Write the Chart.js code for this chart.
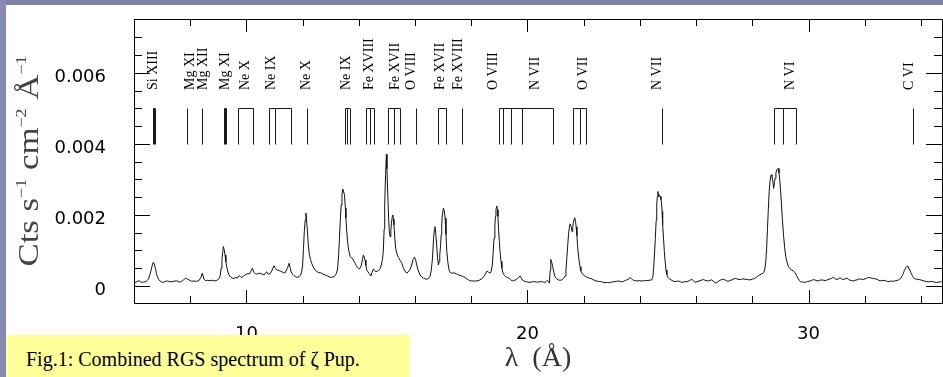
<!DOCTYPE html>
<html>
<head>
<meta charset="utf-8">
<title>Combined RGS spectrum of zeta Pup</title>
<script src="https://cdn.jsdelivr.net/npm/chart.js@4.4.1/dist/chart.umd.min.js"></script>
<style>
  html, body { margin: 0; padding: 0; background: #fff; overflow: hidden; }
  #page { position: relative; width: 943px; height: 377px; background: #fff; }
  .strip-top { position: absolute; left: 0; top: 0; width: 943px; height: 5px; background: #7e82a9; }
  .strip-left { position: absolute; left: 0; top: 0; width: 6px; height: 377px; background: #868ab2; }
  #myChart { position: absolute; left: 0; top: 0; z-index: 1; }
  .caption { position: absolute; left: 6px; top: 335px; width: 404px; height: 42px; background: #ffff99; z-index: 2;
             font: 20px "Liberation Serif", "Times New Roman", serif; color: #000; }
  .caption span { position: absolute; left: 20px; top: 13px; line-height: 23px; white-space: nowrap; }
</style>
</head>
<body>
<div id="page">
  <div class="strip-top"></div>
  <div class="strip-left"></div>
  <canvas id="myChart" width="943" height="377"></canvas>
  <div class="caption"><span>Fig.1: Combined RGS spectrum of ζ Pup.</span></div>
</div>
<script>
const ctx = document.getElementById("myChart");

// spectrum: wavelength (Å) and counts (Cts s-1 cm-2 Å-1)
const wavelength = [
  6.00, 6.04, 6.10, 6.18, 6.26, 6.34, 6.42, 6.48, 6.53, 6.58,
  6.62, 6.66, 6.69, 6.72, 6.76, 6.80, 6.83, 6.88, 6.93, 6.98,
  7.04, 7.11, 7.19, 7.27, 7.36, 7.45, 7.54, 7.61, 7.68, 7.76,
  7.84, 7.90, 7.96, 8.05, 8.14, 8.22, 8.31, 8.38, 8.43, 8.49,
  8.55, 8.61, 8.70, 8.79, 8.88, 8.97, 9.02, 9.06, 9.10, 9.13,
  9.16, 9.18, 9.21, 9.24, 9.27, 9.30, 9.34, 9.38, 9.44, 9.50,
  9.56, 9.62, 9.68, 9.74, 9.78, 9.82, 9.88, 9.94, 10.00, 10.06,
  10.11, 10.15, 10.21, 10.27, 10.32, 10.37, 10.44, 10.51, 10.57, 10.63,
  10.68, 10.72, 10.76, 10.80, 10.85, 10.90, 10.94, 10.98, 11.03, 11.08,
  11.14, 11.20, 11.26, 11.31, 11.36, 11.41, 11.46, 11.52, 11.56, 11.59,
  11.64, 11.69, 11.75, 11.81, 11.87, 11.93, 11.97, 12.00, 12.03, 12.06,
  12.09, 12.12, 12.15, 12.17, 12.20, 12.24, 12.28, 12.32, 12.38, 12.44,
  12.50, 12.56, 12.62, 12.68, 12.74, 12.80, 12.89, 12.98, 13.05, 13.12,
  13.18, 13.24, 13.28, 13.31, 13.34, 13.37, 13.40, 13.43, 13.46, 13.49,
  13.52, 13.54, 13.57, 13.60, 13.64, 13.69, 13.73, 13.78, 13.82, 13.87,
  13.91, 13.95, 14.02, 14.06, 14.09, 14.13, 14.16, 14.19, 14.22, 14.25,
  14.28, 14.32, 14.36, 14.40, 14.43, 14.47, 14.52, 14.56, 14.61, 14.66,
  14.71, 14.76, 14.80, 14.84, 14.87, 14.90, 14.92, 14.95, 14.98, 15.00,
  15.03, 15.06, 15.08, 15.11, 15.14, 15.16, 15.19, 15.21, 15.23, 15.25,
  15.28, 15.31, 15.36, 15.41, 15.47, 15.53, 15.58, 15.64, 15.70, 15.76,
  15.82, 15.88, 15.93, 15.98, 16.02, 16.06, 16.12, 16.18, 16.24, 16.30,
  16.36, 16.42, 16.48, 16.53, 16.58, 16.62, 16.66, 16.69, 16.71, 16.74,
  16.77, 16.80, 16.83, 16.86, 16.88, 16.91, 16.93, 16.95, 16.97, 17.01,
  17.04, 17.07, 17.10, 17.13, 17.17, 17.21, 17.25, 17.30, 17.36, 17.42,
  17.48, 17.54, 17.60, 17.66, 17.72, 17.78, 17.84, 17.90, 17.96, 18.02,
  18.11, 18.20, 18.28, 18.35, 18.41, 18.47, 18.52, 18.56, 18.61, 18.67,
  18.71, 18.75, 18.78, 18.81, 18.84, 18.86, 18.88, 18.91, 18.93, 18.95,
  18.97, 19.00, 19.03, 19.06, 19.09, 19.13, 19.18, 19.23, 19.29, 19.35,
  19.40, 19.46, 19.52, 19.58, 19.63, 19.68, 19.74, 19.78, 19.82, 19.88,
  19.94, 20.01, 20.09, 20.17, 20.25, 20.32, 20.39, 20.45, 20.51, 20.57,
  20.63, 20.67, 20.71, 20.75, 20.78, 20.81, 20.83, 20.86, 20.90, 20.94,
  20.98, 21.04, 21.10, 21.16, 21.22, 21.28, 21.34, 21.37, 21.40, 21.43,
  21.46, 21.49, 21.52, 21.55, 21.59, 21.61, 21.63, 21.66, 21.68, 21.71,
  21.73, 21.76, 21.78, 21.81, 21.84, 21.87, 21.90, 21.95, 21.99, 22.06,
  22.13, 22.21, 22.29, 22.36, 22.44, 22.52, 22.61, 22.68, 22.76, 22.84,
  22.92, 23.00, 23.08, 23.16, 23.24, 23.32, 23.39, 23.46, 23.53, 23.60,
  23.65, 23.70, 23.75, 23.82, 23.89, 23.98, 24.07, 24.16, 24.24, 24.33,
  24.42, 24.46, 24.49, 24.52, 24.55, 24.58, 24.60, 24.62, 24.64, 24.66,
  24.67, 24.70, 24.72, 24.75, 24.77, 24.79, 24.81, 24.84, 24.87, 24.90,
  24.93, 24.96, 25.00, 25.05, 25.11, 25.18, 25.25, 25.31, 25.37, 25.44,
  25.51, 25.59, 25.67, 25.76, 25.85, 25.91, 25.96, 26.03, 26.11, 26.18,
  26.26, 26.35, 26.44, 26.50, 26.56, 26.63, 26.70, 26.78, 26.85, 26.91,
  26.97, 27.05, 27.13, 27.20, 27.27, 27.34, 27.41, 27.49, 27.57, 27.65,
  27.74, 27.83, 27.92, 28.00, 28.08, 28.14, 28.20, 28.26, 28.31, 28.36,
  28.41, 28.45, 28.48, 28.51, 28.54, 28.57, 28.60, 28.63, 28.67, 28.70,
  28.73, 28.76, 28.79, 28.81, 28.84, 28.87, 28.92, 28.95, 28.98, 29.01,
  29.04, 29.07, 29.11, 29.15, 29.19, 29.24, 29.29, 29.34, 29.40, 29.46,
  29.52, 29.57, 29.62, 29.67, 29.71, 29.79, 29.88, 29.97, 30.06, 30.12,
  30.18, 30.25, 30.33, 30.40, 30.47, 30.54, 30.61, 30.69, 30.77, 30.83,
  30.89, 30.95, 31.01, 31.06, 31.12, 31.18, 31.24, 31.30, 31.36, 31.42,
  31.48, 31.54, 31.60, 31.66, 31.72, 31.78, 31.84, 31.90, 31.95, 32.01,
  32.07, 32.13, 32.19, 32.25, 32.31, 32.37, 32.43, 32.50, 32.58, 32.65,
  32.73, 32.80, 32.87, 32.95, 33.02, 33.10, 33.18, 33.24, 33.29, 33.34,
  33.38, 33.41, 33.44, 33.47, 33.50, 33.52, 33.54, 33.57, 33.59, 33.62,
  33.65, 33.69, 33.73, 33.79, 33.85, 33.94, 34.03, 34.12, 34.21, 34.30,
  34.39, 34.47, 34.56, 34.65, 34.74
];
const flux = [
  .00008, .0001, .00012, .00015, .0001, .00011, .00012, .00016, .00022, .00036,
  .00048, .00062, .00067, .00062, .0005, .00035, .00026, .00018, .00014, .00011,
  .0001, .00013, .00014, .00012, .00012, .00014, .00014, .00011, .00012, .00017,
  .00022, .00019, .00017, .00013, .00014, .00013, .00015, .00024, .00036, .00019,
  .00015, .00016, .00015, .00016, .00014, .00017, .0002, .00026, .0005, .00075,
  .00098, .00111, .00102, .00087, .00068, .00054, .0004, .00031, .00025, .00022,
  .00021, .00024, .00022, .00029, .00027, .00024, .00026, .00031, .00033, .00035,
  .00034, .0004, .0005, .00038, .00034, .00033, .00036, .00035, .00033, .00031,
  .00036, .0004, .00034, .00033, .00035, .00042, .0005, .00057, .0005, .00045,
  .00044, .00042, .0004, .00038, .00036, .00042, .0005, .00064, .0005, .0004,
  .00033, .00029, .00026, .00024, .00026, .00031, .00042, .00059, .00105, .00153,
  .00185, .00205, .00175, .00155, .00118, .00089, .00075, .00064, .00053, .00045,
  .00041, .00038, .00037, .00036, .00033, .00031, .00028, .00024, .00025, .00026,
  .00032, .00045, .00085, .00134, .00185, .00228, .00258, .00273, .00265, .00256,
  .0022, .00191, .00155, .00125, .001, .00083, .0008, .00078, .0007, .00064,
  .00057, .00052, .00048, .00052, .00059, .00075, .00087, .00082, .00073, .00058,
  .00045, .0004, .00036, .00032, .00029, .00038, .00048, .00043, .0004, .00042,
  .00044, .00049, .00059, .00075, .00097, .0016, .00228, .0031, .00371, .0033,
  .00256, .0019, .00158, .00139, .00155, .00177, .00195, .002, .00188, .00172,
  .00135, .00106, .0009, .0008, .00072, .00064, .00052, .00042, .00036, .0004,
  .00046, .00059, .00074, .00081, .00074, .00059, .00042, .00031, .00025, .00022,
  .0002, .00019, .00021, .00026, .00045, .00078, .00134, .0016, .00167, .00145,
  .00115, .0008, .00059, .00068, .00087, .00115, .00144, .00175, .002, .00219,
  .00212, .00191, .00145, .00097, .00065, .00045, .00038, .00036, .00037, .00036,
  .00034, .00031, .0003, .00028, .00026, .00024, .0002, .00017, .00015, .00014,
  .00014, .00014, .00016, .00019, .00023, .00029, .00036, .00042, .00039, .00036,
  .00042, .00059, .00095, .00134, .0017, .00196, .00215, .00225, .00215, .00196,
  .0016, .00125, .00092, .00069, .0005, .00036, .0003, .00026, .00024, .00022,
  .00018, .00014, .00016, .00017, .0002, .00024, .00028, .00023, .00017, .00014,
  .00012, .00011, .0001, .00012, .00012, .00011, .00011, .00012, .00012, .00011,
  .0001, .00013, .00016, .00012, .00008, .00045, .00075, .00068, .00054, .00038,
  .00026, .0002, .00017, .00016, .00017, .00021, .00028, .00045, .00078, .00112,
  .00144, .00165, .00175, .00168, .00153, .00165, .00177, .00188, .00192, .00182,
  .00167, .00142, .00115, .0009, .00069, .00054, .00042, .00035, .00031, .00027,
  .00024, .00022, .0002, .00017, .00014, .00013, .00012, .00011, .00009, .0001,
  .00009, .00011, .00012, .00013, .00014, .00012, .00012, .00015, .00017, .00019,
  .00024, .0002, .00017, .00015, .00014, .00015, .00014, .00015, .00015, .00016,
  .00017, .00025, .0005, .0009, .00134, .00185, .00228, .00252, .00266, .00258,
  .00252, .00255, .00252, .00243, .00234, .0021, .00172, .00135, .00097, .00068,
  .00045, .00032, .00024, .0002, .00017, .00014, .00012, .00013, .00014, .00012,
  .0001, .00012, .00012, .00015, .00019, .00014, .0001, .00012, .00014, .00016,
  .00018, .00015, .00014, .00016, .00017, .00012, .00008, .00012, .00016, .00018,
  .00019, .00016, .00013, .00015, .00017, .0002, .00021, .00019, .00018, .0002,
  .00019, .00018, .00017, .00019, .00021, .00024, .00028, .00031, .00033, .00035,
  .00038, .0005, .00069, .00105, .00162, .00215, .00266, .00295, .00313, .00308,
  .00296, .00275, .00292, .00303, .00318, .00327, .00331, .00318, .00296, .00265,
  .00228, .00188, .00144, .0011, .00083, .00065, .00054, .00049, .00045, .00042,
  .00038, .0003, .00022, .00016, .00012, .00011, .0001, .00013, .00014, .00016,
  .00018, .00016, .00014, .00016, .00017, .00016, .00015, .00018, .0002, .00022,
  .00024, .0002, .00018, .0002, .00023, .0002, .00018, .0002, .00022, .00019,
  .00016, .00015, .00014, .00016, .00017, .00019, .0002, .00019, .00018, .0002,
  .00022, .00024, .00023, .00022, .00021, .0002, .00019, .00016, .00014, .00016,
  .00015, .00013, .00012, .00014, .00013, .00015, .00016, .00019, .00022, .0003,
  .00036, .00044, .00048, .00052, .00052, .00056, .00054, .00048, .00048, .00042,
  .00036, .0003, .00024, .0002, .00019, .00018, .00016, .00014, .00012, .00012,
  .00013, .00011, .0001, .00011, .00012
];

// axis ticks
const xTicks = [10, 20, 30];
const yTicks = [0, 0.002, 0.004, 0.006];
const yTickLabels = ["0", "0.002", "0.004", "0.006"];

// line identifications
const ionLabels = ["Si XIII", "Mg XI", "Mg XII", "Mg XI", "Ne X", "Ne IX", "Ne X", "Ne IX", "Fe XVIII",
  "Fe XVII", "O VIII", "Fe XVII", "Fe XVIII", "O VIII", "N VII", "O VII", "N VII", "N VI", "C VI"];
const ionLabelAt = [6.68, 7.99, 8.46, 9.24, 9.95, 10.89, 12.14, 13.54, 14.36,
  15.29, 15.86, 16.89, 17.53, 18.78, 20.29, 22.0, 24.63, 29.35, 33.58];
// marked line positions (Å), one list per multiplet
const lineGroups = [
  [6.67, 6.71, 6.75], [7.88], [8.43], [9.19, 9.23, 9.29], [9.71, 10.25],
  [10.79, 11.03, 11.58], [12.15], [13.51, 13.59, 13.69], [14.25, 14.40, 14.54],
  [15.05, 15.25, 15.47], [16.02], [16.83, 17.09], [17.66],
  [19.0, 19.14, 19.42, 19.82, 20.92], [21.63, 21.87, 22.09], [24.78],
  [28.79, 29.11, 29.55], [33.73]
];
const markLow = 0.004, markHigh = 0.005, labelBase = 0.00552;

const yTitleParts = [["Cts s", false], ["\u22121", true], [" cm", false], ["\u22122", true], [" \u00c5", false], ["\u22121", true]];

const decorations = {
  id: "decorations",
  afterDraw(chart) {
    const { ctx: c, chartArea: a, scales: { x, y } } = chart;
    const px = (v) => Math.round(x.getPixelForValue(v)) + 0.5;
    const py = (v) => Math.round(y.getPixelForValue(v)) + 0.5;
    c.save();
    c.strokeStyle = "#000";
    c.lineWidth = 1;
    c.strokeRect(a.left + 0.5, a.top + 0.5, a.right - a.left, a.bottom - a.top);

    // tick marks on all four sides
    c.beginPath();
    for (let v = 6; v <= x.max; v += 2) {
      const len = v % 10 === 0 ? 13 : 7;
      c.moveTo(px(v), a.bottom); c.lineTo(px(v), a.bottom - len);
      c.moveTo(px(v), a.top); c.lineTo(px(v), a.top + len);
    }
    for (let i = 0; i <= 14; i++) {
      const v = i * 0.0005;
      const len = i % 4 === 0 ? 16 : 8;
      c.moveTo(a.left, py(v)); c.lineTo(a.left + len, py(v));
      c.moveTo(a.right, py(v)); c.lineTo(a.right - len, py(v));
    }
    c.stroke();

    // line markers
    c.strokeStyle = "#1a1a1a";
    const yLo = py(markLow), yHi = py(markHigh);
    c.beginPath();
    lineGroups.forEach((g) => {
      g.forEach((l) => { c.moveTo(px(l), yLo); c.lineTo(px(l), yHi); });
      if (g.length > 1) { c.moveTo(px(g[0]), yHi); c.lineTo(px(g[g.length - 1]), yHi); }
    });
    c.stroke();

    // ion names, rotated
    c.fillStyle = "#000";
    c.font = '14px "Liberation Serif", serif';
    c.textBaseline = "middle";
    c.textAlign = "left";
    ionLabels.forEach((t, i) => {
      c.save();
      c.translate(x.getPixelForValue(ionLabelAt[i]), y.getPixelForValue(labelBase));
      c.rotate(-Math.PI / 2);
      c.fillText(t, 0, 0);
      c.restore();
    });

    // y axis title with superscripts
    c.save();
    c.fillStyle = "#444";
    c.translate(38, (a.top + a.bottom) / 2);
    c.rotate(-Math.PI / 2);
    c.scale(1.2, 1);
    c.textBaseline = "alphabetic";
    const fontFor = (sup) => (sup ? '15px "Liberation Serif", serif' : '29px "Liberation Serif", serif');
    let total = 0;
    yTitleParts.forEach(([t, sup]) => { c.font = fontFor(sup); total += c.measureText(t).width; });
    let pos = -total / 2;
    yTitleParts.forEach(([t, sup]) => {
      c.font = fontFor(sup);
      c.fillText(t, pos, sup ? -12 : 0);
      pos += c.measureText(t).width;
    });
    c.restore();
    c.restore();
  },
};

const myChart = new Chart(ctx, {
  type: "line",
  data: {
    datasets: [
      {
        label: "RGS",
        data: wavelength.map((w, i) => ({ x: w, y: flux[i] })),
        borderColor: "#111",
        borderWidth: 1,
        pointRadius: 0,
        tension: 0,
        fill: false,
      },
    ],
  },
  options: {
    responsive: false,
    animation: false,
    layout: { padding: { top: 19, right: 1, bottom: 0, left: 0 } },
    plugins: { legend: { display: false }, tooltip: { enabled: false } },
    scales: {
      x: {
        type: "linear",
        min: 6,
        max: 34.75,
        afterBuildTicks: (s) => { s.ticks = xTicks.map((v) => ({ value: v })); },
        afterFit: (s) => { s.height = 74; s.paddingLeft = 0; s.paddingRight = 0; },
        grid: { display: false },
        border: { display: false },
        ticks: {
          autoSkip: false,
          maxRotation: 0,
          padding: 13,
          color: "#000",
          font: { family: "DejaVu Sans", size: 18 },
          callback: (v) => String(v),
        },
        title: {
          display: true,
          text: "\u03bb  (\u00c5)",
          color: "#333",
          font: { family: "Liberation Serif", size: 28 },
          padding: { top: 0, bottom: 2 },
        },
      },
      y: {
        type: "linear",
        min: -0.00048,
        max: 0.00752,
        afterBuildTicks: (s) => { s.ticks = yTicks.map((v) => ({ value: v })); },
        afterFit: (s) => { s.width = 134; s.paddingTop = 0; s.paddingBottom = 0; },
        grid: { display: false },
        border: { display: false },
        ticks: {
          autoSkip: false,
          padding: 20,
          labelOffset: 4,
          color: "#000",
          font: { family: "DejaVu Sans", size: 18 },
          callback: (v, i) => yTickLabels[i],
        },
      },
    },
  },
  plugins: [decorations],
});
</script>
</body>
</html>
